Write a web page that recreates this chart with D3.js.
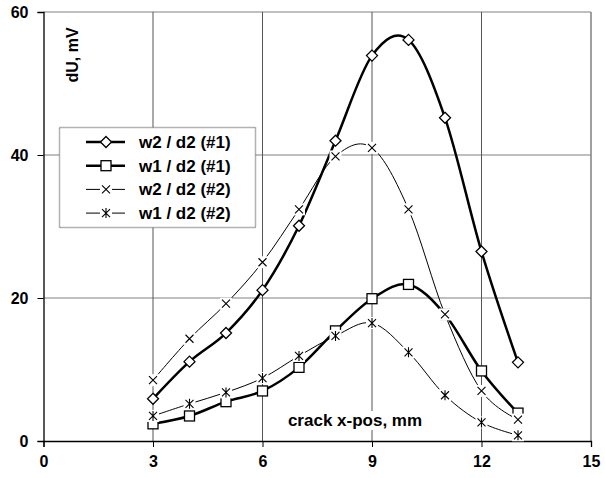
<!DOCTYPE html>
<html>
<head>
<meta charset="utf-8">
<script src="https://cdn.jsdelivr.net/npm/d3@7"></script>
<style>
  body { margin: 0; background: #fff; }
  svg text { font-family: Arial, "Liberation Sans", sans-serif; font-weight: bold; fill: #000; }
</style>
</head>
<body>
<div id="graph"></div>
<script>
const xTicks = [0, 3, 6, 9, 12, 15];
const yTicks = [0, 20, 40, 60];
const xPos = [3, 4, 5, 6, 7, 8, 9, 10, 11, 12, 13];
const w2d2_1 = [5.9, 11.1, 15.1, 21.1, 30.1, 42.0, 53.9, 56.1, 45.2, 26.5, 11.0];
const w1d2_1 = [2.4, 3.5, 5.5, 7.0, 10.3, 15.4, 19.9, 21.9, 17.7, 9.8, 3.9];
const w2d2_2 = [8.5, 14.3, 19.2, 25.0, 32.4, 39.8, 41.0, 32.4, 17.7, 7.0, 3.0];
const w1d2_2 = [3.5, 5.2, 6.8, 8.8, 11.9, 14.7, 16.5, 12.4, 6.4, 2.6, 0.8];
const seriesNames = ["w2 / d2 (#1)", "w1 / d2 (#1)", "w2 / d2 (#2)", "w1 / d2 (#2)"];

const width = 605, height = 478;
const x = d3.scaleLinear().domain([0, 15]).range([43.5, 591]);
const y = d3.scaleLinear().domain([0, 60]).range([441, 12]);

const svg = d3.select("#graph").append("svg")
  .attr("width", width)
  .attr("height", height);

// grid
svg.append("g").selectAll("line")
  .data(yTicks.filter(d => d > 0))
  .enter().append("line")
  .attr("x1", x(0)).attr("x2", x(15))
  .attr("y1", d => y(d)).attr("y2", d => y(d))
  .attr("stroke", "#808080").attr("stroke-width", 1.2);

svg.append("g").selectAll("line")
  .data(xTicks.filter(d => d > 0))
  .enter().append("line")
  .attr("x1", d => x(d)).attr("x2", d => x(d))
  .attr("y1", y(0)).attr("y2", y(60))
  .attr("stroke", d => d === 15 ? "#808080" : "#555").attr("stroke-width", d => d === 15 ? 1.5 : 1);

// axes
const xAxis = svg.append("g")
  .attr("transform", "translate(0," + y(0) + ")")
  .call(d3.axisBottom(x).tickValues(xTicks).tickSize(6).tickPadding(9).tickFormat(d3.format("d")));
const yAxis = svg.append("g")
  .attr("transform", "translate(" + x(0) + ",0)")
  .call(d3.axisLeft(y).tickValues(yTicks).tickSize(6).tickPadding(9).tickFormat(d3.format("d")));
[xAxis, yAxis].forEach(a => {
  a.select(".domain").attr("stroke", "#000").attr("stroke-width", 1.3);
  a.selectAll(".tick line").attr("stroke", "#000");
  a.selectAll(".tick text").style("font-size", "16px").style("font-family", "Arial, 'Liberation Sans', sans-serif").style("font-weight", "bold").attr("fill", "#000");
});

// axis titles
svg.append("text")
  .attr("transform", "translate(78,55) rotate(-90)")
  .attr("text-anchor", "middle")
  .style("font-size", "16px")
  .text("dU, mV");

const xt = svg.append("g");
const xtText = xt.append("text")
  .attr("x", 355).attr("y", 426)
  .attr("text-anchor", "middle")
  .style("font-size", "17px")
  .text("crack x-pos, mm");
const bb = xtText.node().getBBox();
xt.insert("rect", "text")
  .attr("x", bb.x - 3).attr("y", bb.y)
  .attr("width", bb.width + 6).attr("height", bb.height)
  .attr("fill", "#fff");

// markers
function drawMarker(g, type, cx, cy) {
  if (type === "diamond") {
    g.append("path")
      .attr("d", `M${cx},${cy - 5.5}L${cx + 5.5},${cy}L${cx},${cy + 5.5}L${cx - 5.5},${cy}Z`)
      .attr("fill", "#fff").attr("stroke", "#000").attr("stroke-width", 1.3);
  } else if (type === "square") {
    g.append("rect")
      .attr("x", cx - 5).attr("y", cy - 5).attr("width", 10).attr("height", 10)
      .attr("fill", "#fff").attr("stroke", "#000").attr("stroke-width", 1.3);
  } else {
    g.append("rect")
      .attr("x", cx - 6).attr("y", cy - 6).attr("width", 12).attr("height", 12)
      .attr("fill", "#fff");
    g.append("path")
      .attr("d", `M${cx - 4},${cy - 4}L${cx + 4},${cy + 4}M${cx - 4},${cy + 4}L${cx + 4},${cy - 4}`
        + (type === "star" ? `M${cx},${cy - 5}L${cx},${cy + 5}` : ""))
      .attr("stroke", "#000").attr("stroke-width", 1.1).attr("fill", "none");
  }
}

const series = [
  { name: seriesNames[0], values: w2d2_1, marker: "diamond", w: 2.5 },
  { name: seriesNames[1], values: w1d2_1, marker: "square", w: 2.5 },
  { name: seriesNames[2], values: w2d2_2, marker: "cross", w: 1 },
  { name: seriesNames[3], values: w1d2_2, marker: "star", w: 1 }
];

const line = d3.line()
  .x(d => x(d[0]))
  .y(d => y(d[1]))
  .curve(d3.curveCardinal.tension(0));

series.forEach(s => {
  const pts = xPos.map((v, i) => [v, s.values[i]]);
  const g = svg.append("g");
  g.append("path")
    .attr("d", line(pts))
    .attr("fill", "none")
    .attr("stroke", "#000")
    .attr("stroke-width", s.w);
  pts.forEach(p => drawMarker(g, s.marker, x(p[0]), y(p[1])));
});

// legend
const legend = svg.append("g");
legend.append("rect")
  .attr("x", 59.5).attr("y", 127.5)
  .attr("width", 196).attr("height", 100)
  .attr("fill", "#fff")
  .attr("stroke", "#666").attr("stroke-width", 1.5).attr("stroke-dasharray", "1,1");

series.forEach((s, i) => {
  const ly = 142 + i * 23.7;
  const g = legend.append("g");
  g.append("line")
    .attr("x1", 86).attr("x2", 125)
    .attr("y1", ly).attr("y2", ly)
    .attr("stroke", "#000").attr("stroke-width", s.w);
  drawMarker(g, s.marker, 106, ly);
  g.append("text")
    .attr("x", 139).attr("y", ly + 6)
    .style("font-size", "17px")
    .text(s.name);
});
</script>
</body>
</html>
